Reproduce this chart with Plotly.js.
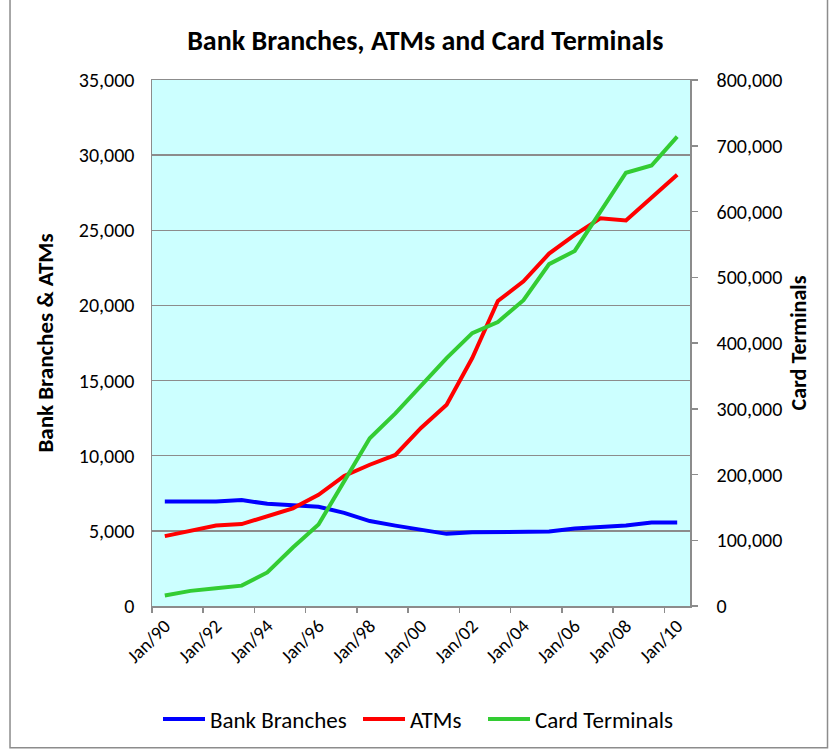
<!DOCTYPE html>
<html>
<head>
<meta charset="utf-8">
<script src="https://cdn.plot.ly/plotly-3.0.1.min.js"></script>
<style>html,body{margin:0;padding:0;background:#fff;}#chart{width:829px;height:752px;}</style>
</head>
<body>
<div id="chart"></div>
<script>
const categories = ['Jan/90','Jan/91','Jan/92','Jan/93','Jan/94','Jan/95','Jan/96','Jan/97','Jan/98','Jan/99','Jan/00',
  'Jan/01','Jan/02','Jan/03','Jan/04','Jan/05','Jan/06','Jan/07','Jan/08','Jan/09','Jan/10'];
const bankBranches = [6950,6950,6950,7050,6800,6700,6600,6200,5650,5350,5100,4800,4900,4900,4900,4950,5150,5250,5350,5550,5550];
const atms = [4650,5000,5350,5450,5950,6500,7400,8650,9400,10050,11850,13400,16500,20300,21600,23450,24700,25800,25650,27200,28700];
const cardTerminals = [16000,23000,27000,31000,51000,89000,124000,190000,255000,293000,335000,377000,415000,432000,465000,520000,540000,599000,659000,670000,714000];
const leftTicks = [0,5000,10000,15000,20000,25000,30000,35000];
const rightTicks = [0,100000,200000,300000,400000,500000,600000,700000,800000];

const FONT = 'Carlito, Lato, "Liberation Sans", sans-serif';
const labelVals = categories.filter((c,i) => i % 2 === 0);
const boundaryVals = categories.map((c,i) => i - 0.5).filter((v,i) => i % 2 === 0);
const fmt = v => v.toLocaleString('en-US');

const traces = [
  {x: categories, y: bankBranches, name: 'Bank Branches', type: 'scatter', mode: 'lines',
   line: {color: '#0000FF', width: 4}, xaxis: 'x', yaxis: 'y', legend: 'legend'},
  {x: categories, y: atms, name: 'ATMs', type: 'scatter', mode: 'lines',
   line: {color: '#FF0000', width: 4}, xaxis: 'x', yaxis: 'y', legend: 'legend2'},
  {x: categories, y: cardTerminals, name: 'Card Terminals', type: 'scatter', mode: 'lines',
   line: {color: '#33CC33', width: 4}, xaxis: 'x', yaxis: 'y2', legend: 'legend3'},
  {x: [0], y: [0], type: 'scatter', mode: 'markers', marker: {opacity: 0}, xaxis: 'x2', yaxis: 'y',
   showlegend: false, hoverinfo: 'skip'}
];

const legendBase = {orientation: 'h', xanchor: 'left', y: -0.215, yanchor: 'middle',
  font: {family: FONT, size: 23}, bgcolor: 'rgba(0,0,0,0)', itemwidth: 42};
const pxToX = px => (px - 152) / 538;

const layout = {
  width: 829, height: 752,
  margin: {l: 152, r: 139, t: 80, b: 143},
  paper_bgcolor: '#FFFFFF',
  plot_bgcolor: '#CCFFFF',
  font: {family: FONT, size: 20, color: '#000'},
  title: {text: 'Bank Branches, ATMs and Card Terminals', font: {family: FONT, size: 28, color: '#000', weight: 'bold'},
          x: 0.513, xanchor: 'center', y: 0.947, yanchor: 'middle'},
  showlegend: true,
  legend: Object.assign({}, legendBase, {x: pxToX(158)}),
  legend2: Object.assign({}, legendBase, {x: pxToX(358)}),
  legend3: Object.assign({}, legendBase, {x: pxToX(483)}),
  xaxis: {type: 'category', categoryorder: 'array', categoryarray: categories,
          range: [-0.5, 20.5], tickvals: labelVals, ticktext: labelVals, tickangle: -45,
          ticks: '', showgrid: false, zeroline: false, showline: true, linecolor: '#8C8C8C', linewidth: 1.5,
          mirror: true, tickfont: {family: FONT, size: 19}, automargin: false, fixedrange: true},
  xaxis2: {type: 'linear', overlaying: 'x', anchor: 'y', side: 'bottom', range: [-0.5, 20.5],
           tickvals: boundaryVals, showticklabels: false, ticks: 'outside', ticklen: 6, tickwidth: 1.5,
           tickcolor: '#8C8C8C', showgrid: false, zeroline: false, showline: false, automargin: false},
  yaxis: {range: [0, 35000], tickvals: leftTicks, ticktext: leftTicks.map(fmt),
          ticks: 'outside', ticklen: 12, tickcolor: 'rgba(0,0,0,0)',
          showgrid: true, gridcolor: '#8C8C8C', gridwidth: 1.5, zeroline: false,
          showline: true, linecolor: '#8C8C8C', linewidth: 1.5, mirror: true,
          tickfont: {family: FONT, size: 20}, automargin: false,
          title: {text: 'Bank Branches & ATMs', font: {family: FONT, size: 23, weight: 'bold'}, standoff: 19}},
  yaxis2: {range: [0, 800000], overlaying: 'y', side: 'right', anchor: 'x',
           tickvals: rightTicks, ticktext: rightTicks.map(fmt),
           ticks: 'outside', ticklen: 6, tickwidth: 1.5, tickcolor: '#8C8C8C', ticklabelstandoff: 15,
           showgrid: false, zeroline: false, showline: true, linecolor: '#8C8C8C', linewidth: 1.5,
           tickfont: {family: FONT, size: 20}, automargin: false,
           title: {text: 'Card Terminals', font: {family: FONT, size: 22, weight: 'bold'}, standoff: 9}},
  shapes: [
    {type: 'rect', xref: 'paper', yref: 'paper', x0: -0.2639, x1: 1.2556, y0: -0.2694, y1: 1.16,
     line: {color: '#8C8C8C', width: 1.5}, fillcolor: 'rgba(0,0,0,0)', layer: 'below'}
  ]
};

Plotly.newPlot('chart', traces, layout, {displayModeBar: false, staticPlot: true});
</script>
</body>
</html>
